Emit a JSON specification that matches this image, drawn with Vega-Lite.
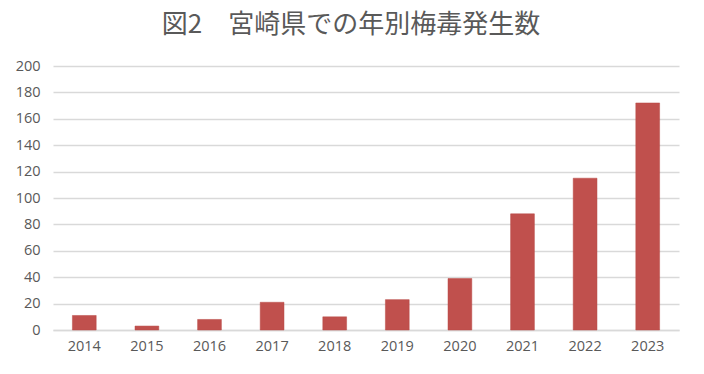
{
  "$schema": "https://vega.github.io/schema/vega-lite/v6.json",
  "width": 626,
  "height": 264,
  "autosize": {"type": "none"},
  "padding": {"left": 53, "top": 66, "right": 25, "bottom": 44},
  "background": "white",
  "title": {
    "text": "図2　宮崎県での年別梅毒発生数",
    "font": "Noto Sans CJK JP",
    "fontSize": 26,
    "fontWeight": "normal",
    "color": "#595959",
    "anchor": "middle",
    "baseline": "bottom",
    "offset": 18,
    "dx": -15,
    "dy": 24
  },
  "data": {
    "values": [
      {"year": "2014", "count": 11},
      {"year": "2015", "count": 3},
      {"year": "2016", "count": 8},
      {"year": "2017", "count": 21},
      {"year": "2018", "count": 10},
      {"year": "2019", "count": 23},
      {"year": "2020", "count": 39},
      {"year": "2021", "count": 88},
      {"year": "2022", "count": 115},
      {"year": "2023", "count": 172}
    ]
  },
  "mark": {"type": "bar", "color": "#c0504d", "stroke": "#b94a47", "strokeWidth": 0.5},
  "encoding": {
    "x": {
      "field": "year",
      "type": "ordinal",
      "title": null,
      "scale": {"paddingInner": 0.62, "paddingOuter": 0.31},
      "axis": {
        "labelAngle": 0,
        "labelFont": "Open Sans",
        "labelFontSize": 14.5,
        "labelColor": "#595959",
        "labelPadding": 9,
        "ticks": false,
        "domain": true,
        "domainColor": "#d9d9d9",
        "domainWidth": 1.5
      }
    },
    "y": {
      "field": "count",
      "type": "quantitative",
      "title": null,
      "scale": {"domain": [0, 200], "nice": false},
      "axis": {
        "values": [0, 20, 40, 60, 80, 100, 120, 140, 160, 180, 200],
        "labelFont": "Open Sans",
        "labelFontSize": 14.5,
        "labelColor": "#595959",
        "labelPadding": 13,
        "ticks": false,
        "domain": false,
        "grid": true,
        "gridColor": "#d9d9d9",
        "gridWidth": 1.5
      }
    }
  },
  "config": {"view": {"stroke": null}}
}
